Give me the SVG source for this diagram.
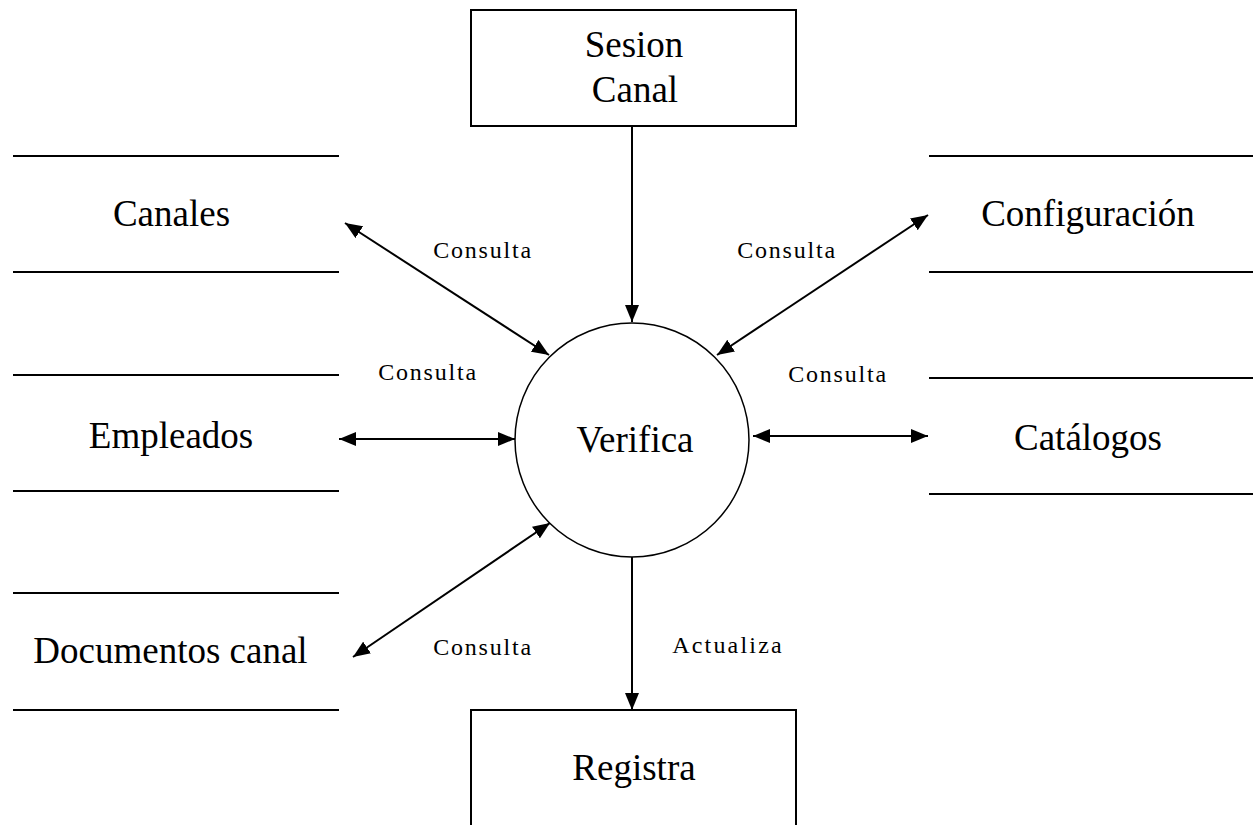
<svg xmlns="http://www.w3.org/2000/svg" width="1253" height="825" viewBox="0 0 1253 825">
<style>
text{font-family:'Liberation Serif','Times New Roman',Times,serif;fill:#000;text-anchor:middle}
.big{font-size:37px}
.lbl{font-size:24px;letter-spacing:1.8px}
.box{fill:#fff;stroke:#000;stroke-width:2}
.store{stroke:#000;stroke-width:2}
.conn{stroke:#000;stroke-width:2;fill:none}
</style>
<defs>
<marker id="ah" markerUnits="userSpaceOnUse" markerWidth="18" markerHeight="14" refX="17" refY="7" orient="auto-start-reverse">
<path d="M0,0 L17,7 L0,14 Z" fill="#000"/>
</marker>
</defs>
<rect width="1253" height="825" fill="#fff"/>
<g id="sesion-canal">
<rect class="box" x="471" y="10" width="325" height="116"/>
<text class="big" x="634" y="57">Sesion</text>
<text class="big" x="635" y="102">Canal</text>
</g>
<g id="registra">
<rect class="box" x="471" y="710" width="325" height="130"/>
<text class="big" x="634" y="780">Registra</text>
</g>
<g id="verifica">
<circle cx="632" cy="440" r="117" fill="#fff" stroke="#000" stroke-width="1.5"/>
<text class="big" x="635" y="452">Verifica</text>
</g>
<g id="canales">
<line class="store" x1="13" y1="156" x2="339" y2="156"/>
<line class="store" x1="13" y1="272" x2="339" y2="272"/>
<text class="big" x="171.5" y="226">Canales</text>
</g>
<g id="empleados">
<line class="store" x1="13" y1="375" x2="339" y2="375"/>
<line class="store" x1="13" y1="491" x2="339" y2="491"/>
<text class="big" x="171" y="448">Empleados</text>
</g>
<g id="documentos-canal">
<line class="store" x1="13" y1="593" x2="339" y2="593"/>
<line class="store" x1="13" y1="710" x2="339" y2="710"/>
<text class="big" x="170.5" y="663">Documentos canal</text>
</g>
<g id="configuracion">
<line class="store" x1="929" y1="156" x2="1253" y2="156"/>
<line class="store" x1="929" y1="272" x2="1253" y2="272"/>
<text class="big" x="1088" y="226">Configuración</text>
</g>
<g id="catalogos">
<line class="store" x1="929" y1="378" x2="1253" y2="378"/>
<line class="store" x1="929" y1="494" x2="1253" y2="494"/>
<text class="big" x="1088" y="450">Catálogos</text>
</g>
<g id="connectors">
<line class="conn" x1="632" y1="126" x2="632" y2="322" marker-end="url(#ah)"/>
<line class="conn" x1="632" y1="557" x2="632" y2="710" marker-end="url(#ah)"/>
<line class="conn" x1="345" y1="223" x2="549" y2="355" marker-start="url(#ah)" marker-end="url(#ah)"/>
<line class="conn" x1="928" y1="215" x2="717" y2="355" marker-start="url(#ah)" marker-end="url(#ah)"/>
<line class="conn" x1="339" y1="439" x2="515" y2="439" marker-start="url(#ah)" marker-end="url(#ah)"/>
<line class="conn" x1="753" y1="436" x2="928" y2="436" marker-start="url(#ah)" marker-end="url(#ah)"/>
<line class="conn" x1="353" y1="657" x2="550" y2="523" marker-start="url(#ah)" marker-end="url(#ah)"/>
<text class="lbl" x="483" y="258">Consulta</text>
<text class="lbl" x="787" y="258">Consulta</text>
<text class="lbl" x="428" y="380">Consulta</text>
<text class="lbl" x="838" y="382">Consulta</text>
<text class="lbl" x="483" y="655">Consulta</text>
<text class="lbl" x="728" y="653" style="letter-spacing:2.2px">Actualiza</text>
</g>
</svg>
